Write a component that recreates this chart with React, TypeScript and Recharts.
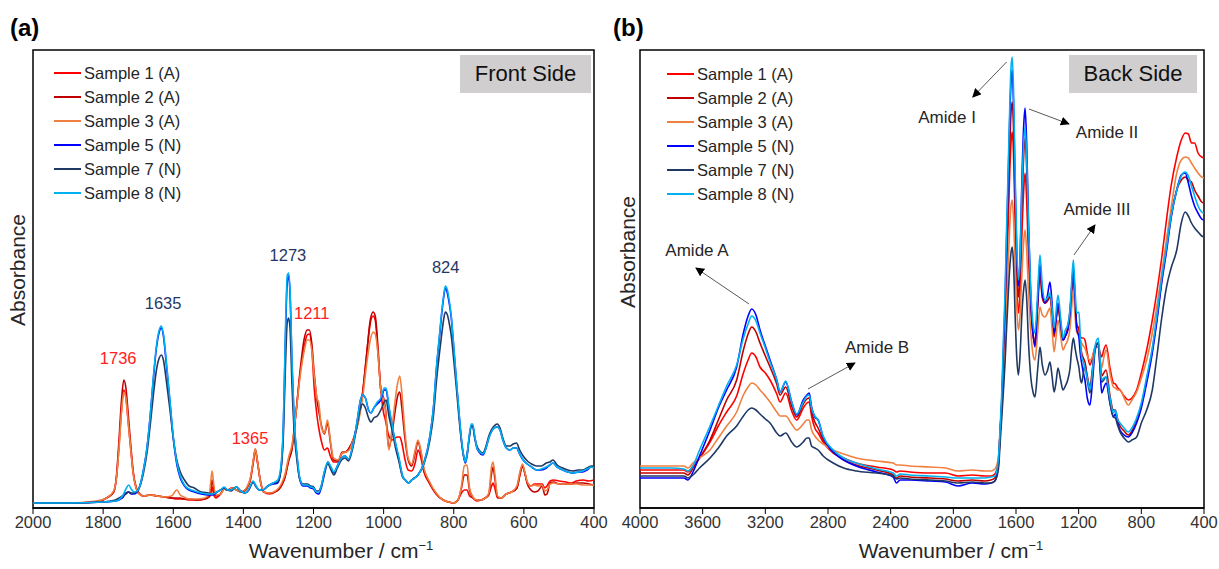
import React from "react";
import {
  LineChart,
  Line,
  XAxis,
  YAxis,
  Legend,
  ReferenceArea,
  ReferenceDot,
  ReferenceLine,
} from "recharts";

// ---------- (a) front side ----------
const FRONT_TICKS = [2000, 1800, 1600, 1400, 1200, 1000, 800, 600, 400];

// acetate-type samples share one wavenumber grid
const FRONT_A_WN = [
  2000, 1900, 1820, 1790, 1770, 1762, 1755, 1748, 1741, 1735, 1728, 1721, 1714, 1706, 1700,
  1685, 1665, 1645, 1625, 1605, 1590, 1580, 1570, 1555, 1530, 1510, 1497, 1492, 1489, 1485, 1478,
  1465, 1455, 1445, 1432, 1420, 1405, 1390, 1380, 1372, 1366, 1360, 1352, 1342, 1325, 1305,
  1292, 1282, 1270, 1262, 1250, 1238, 1226, 1218, 1212, 1205, 1198, 1190, 1185, 1177, 1169, 1160, 1152, 1143,
  1130, 1118, 1108, 1098, 1085, 1072, 1060, 1048, 1038, 1030, 1024, 1015, 1008, 1000,
  995, 985, 976, 968, 960, 954, 948, 940, 930, 920, 910, 902, 895, 885,
  870, 850, 830, 815, 800, 788, 778, 770, 762, 755, 745, 735,
  722, 710, 700, 692, 688, 683, 675, 665, 650, 635, 620, 610, 604, 598, 590,
  580, 570, 560, 548, 540, 534, 525, 515, 500, 480, 465, 450, 430, 415, 400,
];
const FRONT_S1 = [
  5, 5, 6, 10, 16, 30, 60, 96, 118, 110, 84, 58, 34, 20, 15,
  12, 13, 12, 11, 10, 9, 9, 9, 8, 8, 9, 11, 16, 21, 14, 10,
  14, 19, 18, 20, 18, 16, 20, 28, 45, 58, 46, 28, 16, 14, 17,
  22, 30, 50, 58, 95, 135, 162, 173, 174, 160, 120, 92, 80, 66, 58, 60, 52, 46,
  46, 55, 56, 60, 70, 88, 115, 155, 185, 192, 188, 150, 118, 95,
  88, 72, 68, 70, 71, 71, 65, 50, 38, 37, 45, 58, 52, 36,
  25, 14, 8, 6, 5, 8, 15, 18, 18, 12, 10, 7,
  8, 10, 13, 22, 25, 20, 10, 10, 14, 16, 20, 35, 42, 36, 25,
  22, 24, 24, 24, 20, 22, 27, 28, 27, 26, 25, 27, 28, 27, 28,
];
const FRONT_S2 = [
  5, 5, 6, 10, 16, 32, 66, 106, 128, 120, 92, 62, 36, 21, 16,
  12, 13, 12, 11, 10, 10, 10, 9, 9, 8, 9, 12, 22, 28, 20, 12,
  14, 19, 18, 20, 18, 16, 20, 29, 46, 59, 47, 28, 16, 15, 17,
  22, 30, 48, 58, 95, 138, 170, 178, 178, 165, 135, 108, 97, 82, 74, 85, 66, 48,
  47, 56, 56, 60, 70, 88, 115, 155, 188, 196, 192, 155, 118, 110,
  100, 60, 75, 95, 112, 116, 100, 72, 48, 42, 55, 66, 58, 38,
  26, 14, 8, 6, 5, 8, 20, 33, 33, 18, 10, 8,
  8, 10, 14, 35, 41, 30, 11, 10, 14, 16, 20, 36, 42, 36, 24,
  18, 16, 17, 22, 13, 14, 25, 26, 24, 24, 24, 25, 25, 24, 23,
];
const FRONT_S3 = [
  5, 5, 7, 10, 17, 30, 58, 94, 116, 110, 84, 58, 34, 20, 15,
  12, 13, 12, 11, 12, 18, 13, 11, 9, 9, 10, 14, 30, 37, 25, 13,
  14, 19, 18, 20, 18, 16, 21, 30, 47, 59, 47, 28, 16, 15, 18,
  24, 33, 52, 62, 95, 132, 158, 168, 168, 158, 132, 110, 105, 80, 75, 88, 68, 50,
  48, 55, 56, 58, 70, 86, 110, 145, 168, 176, 174, 150, 118, 108,
  98, 58, 80, 105, 125, 132, 115, 80, 50, 44, 58, 68, 60, 40,
  27, 15, 8, 6, 5, 8, 22, 42, 43, 20, 11, 8,
  8, 10, 15, 42, 46, 35, 12, 10, 14, 16, 22, 38, 44, 37, 26,
  22, 23, 22, 23, 17, 18, 24, 25, 24, 24, 24, 24, 23, 23, 23,
];

// nylon-type samples share another grid
const FRONT_N_WN = [
  2000, 1900, 1800, 1765, 1745, 1735, 1727, 1720, 1712, 1703, 1695,
  1685, 1675, 1665, 1657, 1648, 1640, 1634, 1628, 1620, 1610, 1600, 1590, 1580, 1568, 1555, 1540,
  1520, 1500, 1488, 1475, 1465, 1455, 1445, 1435, 1420, 1408, 1395, 1385, 1372, 1365, 1355, 1345, 1330, 1315, 1302,
  1293, 1286, 1280, 1275, 1271, 1267, 1261, 1255, 1248, 1240, 1230, 1218, 1208, 1200, 1192, 1185,
  1178, 1168, 1159, 1150, 1142, 1132, 1120, 1110, 1100, 1088, 1075, 1066, 1060, 1052, 1043, 1036,
  1028, 1018, 1008, 998, 993, 985, 976, 966, 956, 946, 938, 929, 920, 912, 902,
  885, 868, 858, 849, 841, 835, 829, 824, 819, 813, 807, 800, 792, 785, 778, 772, 767,
  762, 756, 750, 746, 740, 734, 728, 717, 708, 700, 693, 685, 676, 668, 660, 650, 640, 630, 621, 612,
  602, 590, 578, 564, 550, 536, 526, 517, 505, 489, 475, 460, 445, 432, 420, 407, 400,
];
const FRONT_S5 = [
  5, 5, 6, 7, 10, 15, 16, 14, 14, 16, 22,
  38, 60, 95, 128, 160, 176, 180, 172, 145, 108, 70, 44, 30, 22, 18, 16,
  14, 13, 13, 16, 18, 20, 18, 18, 21, 17, 15, 18, 26, 22, 18, 18, 22, 24, 25,
  38, 80, 170, 225, 233, 215, 140, 85, 55, 30, 22, 22, 20, 19, 15, 14,
  20, 35, 46, 40, 35, 42, 50, 52, 49, 62, 88, 108, 113, 110, 98, 95,
  100, 104, 108, 118, 118, 100, 82, 64, 48, 32, 28, 25, 28, 30, 33,
  45, 72, 100, 141, 170, 192, 210, 220, 216, 205, 190, 160, 125, 95, 68, 52, 45,
  52, 70, 82, 82, 70, 60, 56, 53, 60, 70, 76, 80, 81, 78, 68, 60, 58, 60, 60, 54,
  48, 44, 41, 38, 38, 40, 43, 45, 41, 38, 36, 35, 36, 36, 38, 41, 40,
];
const FRONT_S7 = [
  5, 5, 6, 8, 12, 14, 16, 15, 15, 17, 22,
  35, 55, 85, 112, 138, 150, 153, 148, 128, 100, 70, 48, 36, 28, 22, 20,
  16, 15, 14, 16, 18, 20, 18, 17, 21, 17, 15, 18, 26, 22, 18, 18, 22, 25, 26,
  38, 72, 142, 185, 190, 180, 120, 76, 50, 30, 24, 24, 22, 21, 17, 17,
  22, 37, 44, 38, 33, 40, 48, 50, 47, 60, 84, 100, 104, 100, 90, 86,
  90, 92, 98, 106, 108, 92, 78, 60, 46, 31, 28, 25, 28, 30, 33,
  44, 68, 92, 128, 154, 172, 188, 196, 194, 185, 172, 148, 118, 90, 66, 52, 47,
  54, 70, 82, 82, 70, 62, 58, 55, 62, 72, 78, 82, 84, 80, 70, 62, 62, 64, 65, 58,
  52, 47, 44, 42, 42, 45, 46, 48, 43, 40, 38, 37, 38, 38, 40, 42, 42,
];
const FRONT_S8 = [
  5, 5, 6, 7, 12, 19, 23, 19, 16, 17, 22,
  38, 60, 95, 130, 162, 178, 182, 174, 148, 110, 72, 46, 32, 23, 19, 17,
  15, 14, 14, 16, 18, 21, 18, 18, 21, 17, 15, 19, 27, 23, 18, 18, 22, 25, 28,
  42, 85, 178, 232, 235, 218, 145, 88, 57, 32, 23, 23, 21, 20, 16, 16,
  22, 38, 46, 41, 36, 42, 50, 52, 49, 62, 88, 108, 113, 110, 98, 95,
  100, 106, 110, 120, 120, 102, 84, 65, 50, 32, 28, 25, 28, 30, 33,
  45, 72, 100, 142, 172, 194, 212, 222, 219, 208, 192, 162, 126, 96, 69, 53, 46,
  53, 72, 84, 84, 72, 60, 57, 54, 60, 70, 76, 80, 81, 78, 68, 60, 58, 60, 60, 54,
  48, 44, 41, 38, 39, 41, 43, 45, 41, 38, 36, 35, 36, 37, 39, 41, 40,
];

// ---------- (b) back side ----------
const BACK_TICKS = [4000, 3600, 3200, 2800, 2400, 2000, 1600, 1200, 800, 400];

const BACK_WN = [
  4000, 3900, 3800, 3720, 3694, 3662, 3620, 3553, 3500, 3447, 3383, 3340, 3310, 3287, 3260, 3234,
  3200, 3170, 3127, 3106, 3070, 3032, 3000, 2958, 2935, 2920, 2905, 2884, 2863, 2831, 2767, 2700,
  2620, 2490, 2384, 2363, 2340, 2278, 2150, 2050, 1970, 1880, 1800, 1760, 1735, 1713, 1700,
  1691, 1680, 1670, 1660, 1649, 1640, 1632, 1624, 1616, 1605, 1595, 1585, 1575, 1562, 1550, 1542, 1532, 1520,
  1505, 1490, 1479, 1462, 1447, 1432, 1415, 1400, 1383, 1370, 1357, 1345, 1332, 1315, 1300, 1285, 1270, 1255, 1245, 1234, 1223,
  1213, 1198, 1190, 1181, 1170, 1160, 1145, 1128, 1110, 1095, 1075, 1063, 1053, 1040, 1025, 1000, 978, 966, 950,
  936, 910, 883, 860, 830, 800, 766, 730, 702, 670, 638, 610, 574, 545, 520, 500, 480, 460, 438, 415, 400,
];
const BACK_S1 = [
  38, 38, 38, 38, 36, 42, 50, 66, 82, 96, 112, 135, 148, 155, 151, 141,
  135, 128, 114, 106, 115, 97, 88, 100, 105, 106, 92, 80, 75, 66, 55, 50,
  45, 41, 38, 36, 37, 36, 35, 35, 32, 33, 32, 32, 34, 47, 80,
  100, 142, 180, 232, 290, 335, 365, 376, 355, 282, 225, 195, 212, 275, 320, 335, 308, 250,
  200, 172, 163, 200, 233, 210, 205, 207, 211, 195, 171, 186, 201, 182, 168, 172, 180, 198, 215, 231, 205,
  185, 178, 172, 170, 170, 168, 155, 143, 152, 161, 161, 155, 151, 158, 163, 140, 125, 124, 120,
  118, 112, 108, 110, 118, 135, 158, 188, 215, 250, 290, 322, 351, 368, 375, 374, 365, 365, 355, 351, 350,
];
const BACK_S2 = [
  35, 35, 35, 35, 33, 40, 50, 68, 88, 108, 128, 158, 174, 181, 176, 165,
  152, 141, 124, 113, 121, 102, 91, 104, 109, 110, 96, 86, 80, 68, 56, 48,
  43, 38, 33, 30, 32, 31, 30, 29, 27, 28, 27, 28, 30, 44, 80,
  105, 150, 190, 250, 310, 360, 395, 406, 380, 300, 240, 211, 230, 300, 355, 370, 340, 270,
  205, 172, 165, 205, 243, 212, 205, 207, 212, 196, 172, 188, 203, 183, 168, 172, 178, 195, 218, 235, 205,
  182, 180, 165, 155, 150, 146, 132, 122, 142, 160, 165, 148, 132, 135, 138, 112, 98, 98, 88,
  82, 77, 73, 77, 88, 103, 128, 158, 188, 228, 262, 292, 318, 328, 331, 328, 326, 318, 312, 306, 305,
];
const BACK_S3 = [
  42, 42, 42, 42, 40, 45, 50, 58, 70, 82, 96, 113, 121, 125, 123, 118,
  112, 106, 96, 92, 92, 84, 78, 84, 88, 88, 78, 72, 68, 64, 58, 54,
  50, 47, 45, 43, 43, 42, 41, 40, 37, 38, 37, 37, 39, 50, 78,
  95, 128, 158, 200, 248, 282, 302, 308, 290, 240, 200, 178, 190, 235, 268, 278, 258, 215,
  175, 152, 148, 175, 201, 193, 191, 195, 200, 180, 156, 170, 188, 172, 158, 163, 168, 180, 200, 218, 192,
  176, 172, 168, 165, 162, 160, 152, 148, 152, 160, 161, 148, 140, 150, 158, 135, 121, 120, 118,
  118, 110, 103, 108, 116, 130, 148, 175, 201, 235, 270, 300, 335, 348, 351, 350, 345, 340, 335, 331, 330,
];
const BACK_S5 = [
  30, 30, 30, 30, 28, 36, 52, 78, 100, 118, 141, 175, 192, 199, 193, 178,
  162, 148, 128, 116, 126, 106, 93, 108, 113, 115, 101, 91, 88, 71, 56, 48,
  42, 36, 31, 25, 28, 28, 27, 26, 22, 25, 24, 25, 27, 42, 80,
  108, 160, 205, 270, 335, 390, 425, 438, 405, 320, 255, 222, 245, 330, 385, 400, 365, 285,
  205, 172, 161, 205, 243, 215, 205, 212, 226, 205, 175, 188, 205, 185, 168, 172, 178, 195, 220, 241, 210,
  180, 170, 155, 145, 135, 128, 110, 103, 130, 158, 165, 138, 115, 120, 125, 105, 91, 94, 84,
  78, 73, 71, 75, 85, 100, 125, 155, 185, 225, 258, 290, 318, 333, 335, 325, 312, 302, 295, 289, 288,
];
const BACK_S7 = [
  32, 32, 32, 32, 30, 33, 40, 50, 60, 72, 82, 92, 98, 100, 98, 94,
  89, 85, 75, 72, 75, 66, 61, 66, 70, 70, 62, 60, 58, 52, 45, 40,
  37, 35, 32, 29, 30, 29, 28, 27, 25, 26, 25, 25, 27, 38, 68,
  90, 118, 145, 180, 215, 240, 255, 261, 245, 190, 150, 133, 150, 195, 220, 228, 210, 165,
  130, 115, 111, 138, 161, 143, 133, 137, 146, 132, 116, 125, 140, 128, 118, 122, 128, 140, 158, 170, 160,
  151, 140, 130, 125, 135, 143, 128, 115, 138, 160, 165, 140, 126, 128, 131, 105, 91, 90, 82,
  76, 70, 66, 68, 71, 85, 98, 118, 150, 190, 222, 240, 258, 285, 296, 292, 285, 280, 276, 272, 271,
];
const BACK_S8 = [
  40, 40, 40, 39, 37, 42, 58, 82, 102, 122, 143, 170, 184, 192, 187, 175,
  160, 146, 128, 116, 127, 106, 94, 106, 112, 113, 100, 92, 88, 72, 58, 50,
  45, 39, 35, 32, 34, 33, 32, 31, 30, 30, 30, 31, 32, 48, 85,
  115, 170, 215, 280, 345, 400, 440, 451, 420, 330, 262, 228, 245, 320, 368, 381, 352, 282,
  215, 182, 175, 215, 253, 222, 208, 210, 215, 200, 180, 195, 213, 190, 170, 178, 183, 200, 225, 248, 218,
  195, 196, 172, 151, 146, 140, 130, 118, 140, 162, 170, 148, 128, 130, 131, 110, 95, 98, 88,
  85, 80, 76, 80, 90, 105, 131, 160, 191, 230, 262, 292, 318, 332, 336, 332, 322, 312, 302, 296, 295,
];

// peak labels (front) and band labels (back)
const FRONT_PEAKS = [
  { text: "1736", wn: 1757, y: 150, color: "#FF2020" },
  { text: "1635", wn: 1629, y: 205, color: "#1F3864" },
  { text: "1365", wn: 1381, y: 70, color: "#FF2020" },
  { text: "1273", wn: 1273, y: 253, color: "#1F3864" },
  { text: "1211", wn: 1205, y: 195, color: "#FF2020" },
  { text: "824", wn: 823, y: 241, color: "#1F3864" },
];
const BACK_BANDS = [
  { text: "Amide I", wn: 2040, y: 391, from: [1660, 446], to: [1876, 411] },
  { text: "Amide II", wn: 1019, y: 376, from: [1517, 399], to: [1262, 384] },
  { text: "Amide III", wn: 1083, y: 299, from: [1230, 253], to: [1096, 283] },
  { text: "Amide A", wn: 3636, y: 258, from: [3304, 204], to: [3643, 240] },
  { text: "Amide B", wn: 2487, y: 161, from: [2928, 119], to: [2628, 145] },
];

const COLORS: Record<string, string> = {
  s1: "#FF0000",
  s2: "#C00000",
  s3: "#F08040",
  s5: "#0000FF",
  s7: "#1F3864",
  s8: "#00B0F0",
};
const NAMES: Record<string, string> = {
  s1: "Sample 1 (A)",
  s2: "Sample 2 (A)",
  s3: "Sample 3 (A)",
  s5: "Sample 5 (N)",
  s7: "Sample 7 (N)",
  s8: "Sample 8 (N)",
};

const FONT = '"Liberation Sans", Arial, sans-serif';
const Y_MAX = 458;

function buildRows(wn: number[], cols: Record<string, number[]>) {
  return wn.map((w, i) => {
    const row: any = { wn: w };
    Object.keys(cols).forEach((k) => (row[k] = cols[k][i]));
    return row;
  });
}

const frontA = buildRows(FRONT_A_WN, { s1: FRONT_S1, s2: FRONT_S2, s3: FRONT_S3 });
const frontN = buildRows(FRONT_N_WN, { s5: FRONT_S5, s7: FRONT_S7, s8: FRONT_S8 });
const backRows = buildRows(BACK_WN, {
  s1: BACK_S1, s2: BACK_S2, s3: BACK_S3, s5: BACK_S5, s7: BACK_S7, s8: BACK_S8,
});

const renderLegend = (props: any) => (
  <div style={{ fontSize: 16.5, color: "#262626", fontFamily: FONT }}>
    {(props.payload || []).map((p: any) => (
      <div key={p.value} style={{ display: "flex", alignItems: "center", height: 24 }}>
        <span style={{ display: "inline-block", width: 27, height: 2, background: p.color, marginRight: 3 }} />
        <span>{p.value}</span>
      </div>
    ))}
  </div>
);

const axisProps = {
  type: "number" as const,
  dataKey: "wn",
  reversed: true,
  allowDataOverflow: true,
  interval: 0 as const,
  height: 30,
  tickSize: 6,
  tick: { fill: "#333", fontSize: 16.5, fontFamily: FONT },
  tickLine: { stroke: "#000" },
  axisLine: { stroke: "#000", strokeWidth: 1.5 },
};

function seriesLine(key: string, data: any[] | undefined) {
  return (
    <Line
      key={key}
      data={data}
      dataKey={key}
      name={NAMES[key]}
      stroke={COLORS[key]}
      strokeWidth={1.6}
      type="monotone"
      dot={false}
      activeDot={false}
      isAnimationActive={false}
    />
  );
}

const sideBox = (left: number, width: number): React.CSSProperties => ({
  position: "absolute",
  left,
  top: 55,
  width,
  height: 38,
  background: "#D0CECE",
  fontSize: 22,
  display: "flex",
  alignItems: "center",
  justifyContent: "center",
  color: "#111",
});

export default function App() {
  return (
    <div style={{ position: "relative", width: 1219, height: 569, background: "#fff", fontFamily: FONT, color: "#262626" }}>
      <style>{`body{margin:0}`}</style>
      <svg width={0} height={0} style={{ position: "absolute" }}>
        <defs>
          <marker id="arrowHead" viewBox="0 0 10 10" refX="9" refY="5" markerWidth="9" markerHeight="9" orient="auto">
            <path d="M0,0 L10,5 L0,10 z" fill="#000" />
          </marker>
        </defs>
      </svg>

      {/* panel (a) */}
      <div style={{ position: "absolute", left: 0, top: 0 }}>
        <LineChart width={610} height={569} margin={{ top: 50, right: 16, bottom: 31, left: 33 }}>
          <XAxis {...axisProps} domain={[400, 2000]} ticks={FRONT_TICKS} />
          <YAxis type="number" domain={[0, Y_MAX]} hide allowDataOverflow />
          <ReferenceArea x1={2000} x2={400} y1={0} y2={Y_MAX} fill="none" stroke="#000" strokeWidth={1.5} ifOverflow="visible" />
          {seriesLine("s1", frontA)}
          {seriesLine("s2", frontA)}
          {seriesLine("s3", frontA)}
          {seriesLine("s5", frontN)}
          {seriesLine("s7", frontN)}
          {seriesLine("s8", frontN)}
          {FRONT_PEAKS.map((p) => (
            <ReferenceDot
              key={p.text}
              x={p.wn}
              y={p.y}
              r={1}
              fill="none"
              stroke="none"
              label={{ value: p.text, position: "center", fill: p.color, fontSize: 16.5, fontFamily: FONT }}
            />
          ))}
          <Legend
            layout="vertical"
            align="center"
            verticalAlign="middle"
            content={renderLegend}
            wrapperStyle={{ top: 61, left: 54, width: 140, height: 150 }}
          />
        </LineChart>
      </div>

      {/* panel (b) */}
      <div style={{ position: "absolute", left: 610, top: 0 }}>
        <LineChart width={609} height={569} margin={{ top: 50, right: 15, bottom: 31, left: 30 }}>
          <XAxis {...axisProps} domain={[400, 4000]} ticks={BACK_TICKS} />
          <YAxis type="number" domain={[0, Y_MAX]} hide allowDataOverflow />
          <ReferenceArea x1={4000} x2={400} y1={0} y2={Y_MAX} fill="none" stroke="#000" strokeWidth={1.5} ifOverflow="visible" />
          {["s1", "s2", "s3", "s5", "s7", "s8"].map((k) => seriesLine(k, backRows))}
          {BACK_BANDS.map((b) => (
            <ReferenceLine
              key={"arrow-" + b.text}
              segment={[
                { x: b.from[0], y: b.from[1] },
                { x: b.to[0], y: b.to[1] },
              ]}
              stroke="#595959"
              strokeWidth={1}
              markerEnd="url(#arrowHead)"
              ifOverflow="visible"
            />
          ))}
          {BACK_BANDS.map((b) => (
            <ReferenceDot
              key={b.text}
              x={b.wn}
              y={b.y}
              r={1}
              fill="none"
              stroke="none"
              label={{ value: b.text, position: "center", fill: "#262626", fontSize: 17, fontFamily: FONT }}
            />
          ))}
          <Legend
            layout="vertical"
            align="center"
            verticalAlign="middle"
            content={renderLegend}
            wrapperStyle={{ top: 62, left: 57, width: 140, height: 150 }}
          />
        </LineChart>
      </div>

      {/* static text */}
      <div style={{ position: "absolute", left: 10, top: 14, fontSize: 24, fontWeight: "bold", color: "#000" }}>(a)</div>
      <div style={{ position: "absolute", left: 613, top: 14, fontSize: 24, fontWeight: "bold", color: "#000" }}>(b)</div>
      <div style={sideBox(460, 131)}>Front Side</div>
      <div style={sideBox(1069, 128)}>Back Side</div>
      {[341, 951].map((cx) => (
        <div
          key={cx}
          style={{ position: "absolute", left: cx, top: 551, transform: "translate(-50%, -50%)", fontSize: 21, whiteSpace: "nowrap" }}
        >
          Wavenumber / cm<sup style={{ fontSize: 13, lineHeight: 0 }}>−1</sup>
        </div>
      ))}
      {[
        { cx: 18, cy: 270 },
        { cx: 628, cy: 252 },
      ].map((p) => (
        <div
          key={p.cx}
          style={{
            position: "absolute",
            left: p.cx,
            top: p.cy,
            transform: "translate(-50%, -50%) rotate(-90deg)",
            fontSize: 21,
            whiteSpace: "nowrap",
          }}
        >
          Absorbance
        </div>
      ))}
    </div>
  );
}
